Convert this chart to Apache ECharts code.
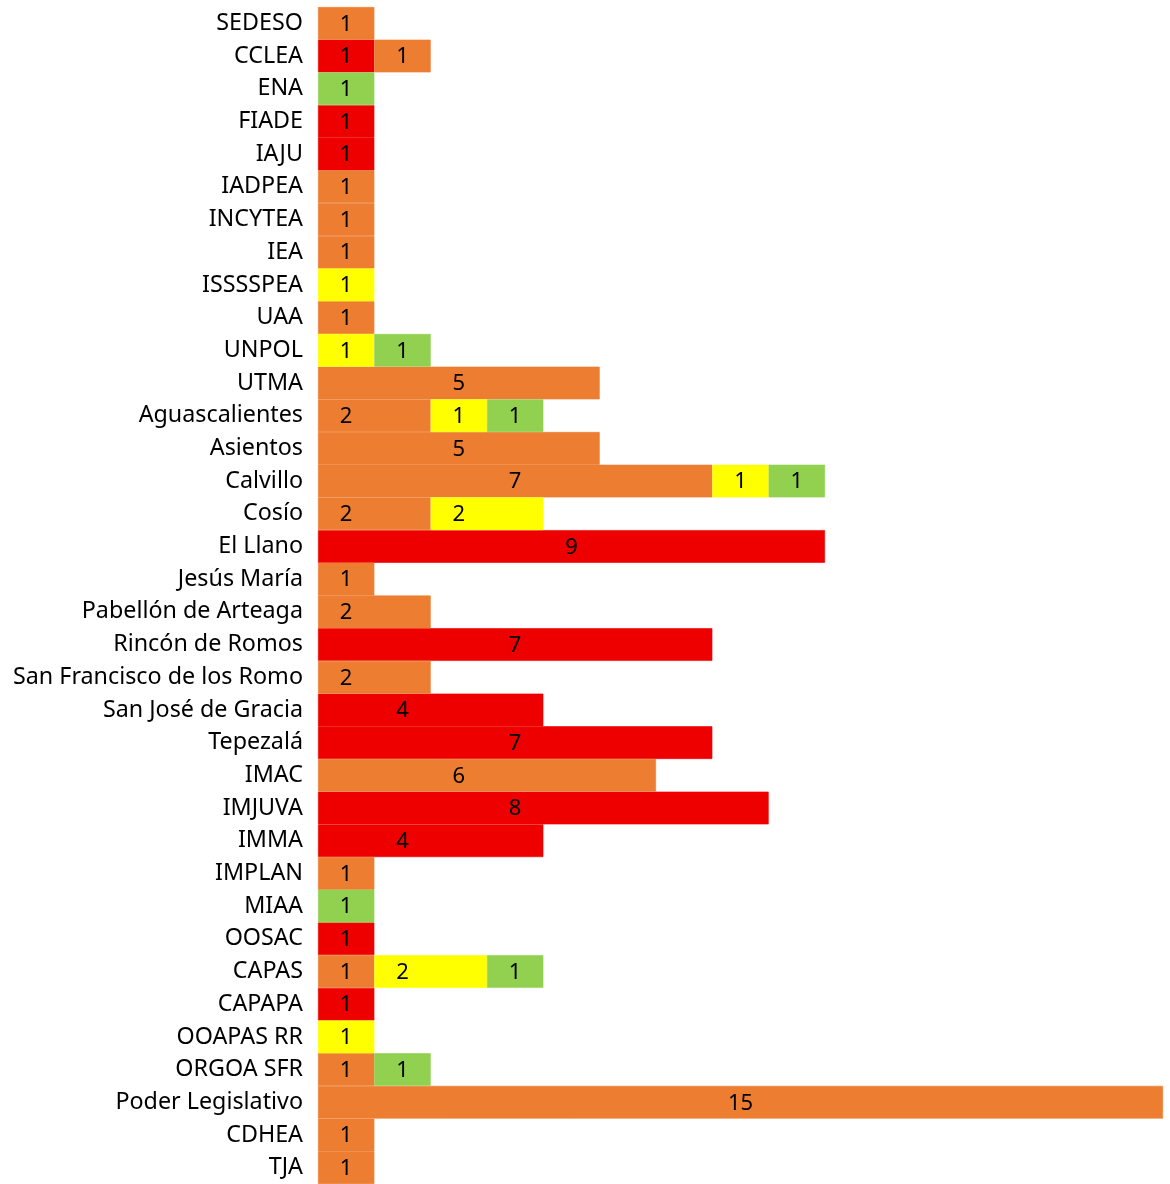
<!DOCTYPE html>
<html><head><meta charset="utf-8">
<script src="https://cdn.jsdelivr.net/npm/echarts@6/dist/echarts.min.js"></script>
<style>html,body{margin:0;padding:0;background:#fff}#c{width:1170px;height:1184px}</style>
</head><body><div id="c"></div>
<script>
const categories = ["SEDESO","CCLEA","ENA","FIADE","IAJU","IADPEA","INCYTEA","IEA","ISSSSPEA","UAA","UNPOL","UTMA","Aguascalientes","Asientos","Calvillo","Cosío","El Llano","Jesús María","Pabellón de Arteaga","Rincón de Romos","San Francisco de los Romo","San José de Gracia","Tepezalá","IMAC","IMJUVA","IMMA","IMPLAN","MIAA","OOSAC","CAPAS","CAPAPA","OOAPAS RR","ORGOA SFR","Poder Legislativo","CDHEA","TJA"];
const redVals    = [0,1,0,1,1,0,0,0,0,0,0,0,0,0,0,0,9,0,0,7,0,4,7,0,8,4,0,0,1,0,1,0,0,0,0,0];
const orangeVals = [1,1,0,0,0,1,1,1,0,1,0,5,2,5,7,2,0,1,2,0,2,0,0,6,0,0,1,0,0,1,0,0,1,15,1,1];
const yellowVals = [0,0,0,0,0,0,0,0,1,0,1,0,1,0,1,2,0,0,0,0,0,0,0,0,0,0,0,0,0,2,0,1,0,0,0,0];
const greenVals  = [0,0,1,0,0,0,0,0,0,0,1,0,1,0,1,0,0,0,0,0,0,0,0,0,0,0,0,1,0,1,0,0,1,0,0,0];

const font = '"Noto Sans", sans-serif';
const unitPx = (1170 - 318 - 7) / 15;
function mk(name, data, color){
  return {
    name, type:'bar', stack:'s',
    data: data.map(v => v === 0 ? null : {
      value: v,
      label: { offset: [v % 2 === 0 ? -unitPx / 2 : 0, 1] }
    }),
    barWidth:'100%', barCategoryGap:0,
    itemStyle:{color, borderColor:color, borderWidth:0.6},
    label:{show:true, position:'inside', color:'#000', fontSize:22, fontFamily:font,
      formatter:p => p.value}
  };
}
const chart = echarts.init(document.getElementById('c'), null, {renderer:'canvas'});
chart.setOption({
  animation:false,
  grid:{left:318, right:7, top:7, bottom:0, containLabel:false},
  xAxis:{type:'value', min:0, max:15, show:false},
  yAxis:{type:'category', data:categories, inverse:true,
    axisLine:{show:false}, axisTick:{show:false},
    axisLabel:{color:'#000', fontSize:23.3, fontFamily:font, margin:15, padding:[2,0,0,0]}},
  series:[mk('Rojo',redVals,'#EE0000'), mk('Naranja',orangeVals,'#ED7D31'),
          mk('Amarillo',yellowVals,'#FFFF00'), mk('Verde',greenVals,'#92D050')]
});
</script></body></html>
